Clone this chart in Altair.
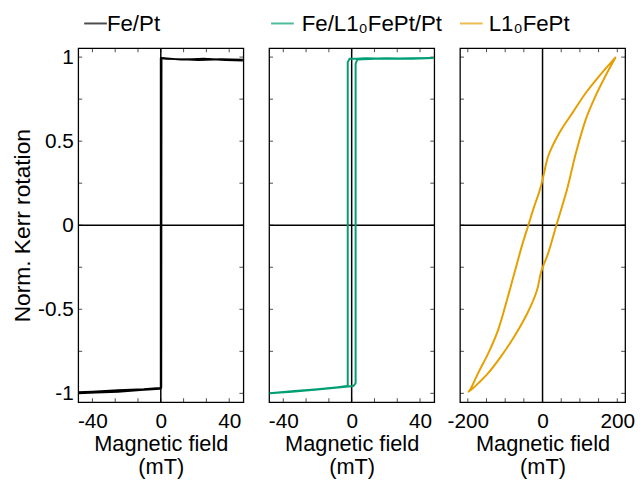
import altair as alt
import pandas as pd

# ---- data ----
fept_x = [48, 35, 22, 10, 3, 0.4, 0.25, -0.5, -10, -25, -40, -48,
          -48, -38, -25, -12, -0.6, 0, 0, 2, 12, 25, 38, 48]
fept_y = [0.985, 0.987, 0.983, 0.988, 0.99, 0.995, -0.965, -0.968, -0.975, -0.982, -0.99, -0.993,
          -1.0, -0.995, -0.99, -0.98, -0.973, -0.97, 0.99, 0.993, 0.985, 0.99, 0.983, 0.98]

mix_x = [48, 35, 20, 8, 3, -1.2, -2.3, -2.3, -2.8, -8, -20, -35, -48,
         -48, -35, -20, -8, 1.0, 2.3, 2.3, 3.2, 10, 20, 35, 48]
mix_y = [0.995, 0.993, 0.99, 0.993, 0.99, 0.99, 0.97, -0.95, -0.957, -0.963, -0.975, -0.988, -1.0,
         -1.0, -0.99, -0.978, -0.965, -0.957, -0.94, 0.96, 0.985, 0.988, 0.993, 0.99, 0.995]

l10_x = [196, 151, 116, 81, 46, 16, 3, -4, -10, -24, -38, -54, -76, -98, -119, -145, -172, -193, -198,
         -180, -145, -111, -76, -41, -15, -4, 16, 37, 64, 90, 116, 142, 168, 196]
l10_y = [1.0, 0.886, 0.788, 0.671, 0.553, 0.416, 0.30, 0.235, 0.19, 0.10, 0.0, -0.114, -0.29, -0.467,
         -0.624, -0.761, -0.878, -0.976, -0.992,
         -0.957, -0.878, -0.78, -0.663, -0.525, -0.388, -0.28, -0.16, 0.0, 0.2, 0.435, 0.631, 0.769,
         0.886, 1.0]

names = ["Fe/Pt", "Fe/L1\u2080FePt/Pt", "L1\u2080FePt"]
colors = ["#000000", "#009E73", "#E69F00"]

small_ticks = [-40, -80 / 3, -40 / 3, 0, 40 / 3, 80 / 3, 40]
small_labels = [-40, 0, 40]
big_ticks = [-200, -150, -100, -50, 0, 50, 100, 150, 200]
big_labels = [-200, 0, 200]
y_ticks = [-1, -0.75, -0.5, -0.25, 0, 0.25, 0.5, 0.75, 1]
y_labels = [-1, -0.5, 0, 0.5, 1]

W, H = 167, 358
TL = 4
FONT = "Liberation Sans"
LBL = 21
neg_expr = "datum.value < 0 ? '-' + format(-datum.value, '') : format(datum.value, '')"


def panel(xs, ys, name, color, xdom, xticks, xlabels, first, leg_dx, txt_dx, interp):
    df = pd.DataFrame({"x": xs, "y": ys, "i": list(range(len(xs)))})
    xscale = alt.Scale(domain=xdom, nice=False, zero=False)
    yscale = alt.Scale(domain=[-1.053, 1.053], nice=False, zero=False)
    xaxis = alt.Axis(values=xlabels, ticks=False, domain=False, grid=False,
                     labelExpr=neg_expr, labelFontSize=LBL, labelFont=FONT, labelColor="black",
                     labelPadding=9, title=["Magnetic field", "(mT)"], titleFontSize=22,
                     titleFont=FONT, titleFontWeight="normal", titleColor="black",
                     titlePadding=2, titleLineHeight=23)
    if first:
        yaxis = alt.Axis(values=y_labels, ticks=False, domain=False, grid=False,
                         labelExpr=neg_expr, labelFontSize=LBL, labelFont=FONT, labelColor="black",
                         labelPadding=5, title="Norm. Kerr rotation", titleFontSize=23,
                         titleFont=FONT, titleFontWeight="normal", titleColor="black",
                         titlePadding=3)
    else:
        yaxis = None

    def X(f):
        return alt.X(f, scale=xscale, axis=xaxis)

    def Y(f):
        return alt.Y(f, scale=yscale, axis=yaxis)

    line = alt.Chart(df).mark_line(strokeWidth=2, clip=True, color=color, interpolate=interp).encode(
        x=X("x:Q"), y=Y("y:Q"), order="i:Q")
    z = pd.DataFrame({"z": [0]})
    zero_v = alt.Chart(z).mark_rule(color="black", strokeWidth=1.5).encode(x=X("z:Q"))
    zero_h = alt.Chart(z).mark_rule(color="black", strokeWidth=1.5).encode(y=Y("z:Q"))

    xt = pd.DataFrame({"x": xticks})
    yt = pd.DataFrame({"y": y_ticks})
    tb = alt.Chart(xt).mark_tick(color="black", thickness=1, size=TL, orient="vertical").encode(
        x=X("x:Q"), y=alt.value(H - TL / 2))
    tt = alt.Chart(xt).mark_tick(color="black", thickness=1, size=TL, orient="vertical").encode(
        x=X("x:Q"), y=alt.value(TL / 2))
    tlft = alt.Chart(yt).mark_tick(color="black", thickness=1, size=TL, orient="horizontal").encode(
        y=Y("y:Q"), x=alt.value(TL / 2))
    trgt = alt.Chart(yt).mark_tick(color="black", thickness=1, size=TL, orient="horizontal").encode(
        y=Y("y:Q"), x=alt.value(W - TL / 2))

    ld = pd.DataFrame({"name": [name]})
    leg_line = alt.Chart(ld).mark_tick(color=color, thickness=2, size=23, orient="horizontal").encode(
        x=alt.value(leg_dx + 11.5), y=alt.value(-25))
    leg_text = alt.Chart(ld).mark_text(align="left", baseline="middle", fontSize=22.5, font=FONT,
                                       color="black").encode(
        text="name:N", x=alt.value(txt_dx), y=alt.value(-24))

    return alt.layer(zero_v, zero_h, tb, tt, tlft, trgt, line, leg_line, leg_text).properties(
        width=W, height=H)


p1 = panel(fept_x, fept_y, names[0], colors[0], [-48.3, 48.3], small_ticks, small_labels, True,
           6, 29, "linear")
p2 = panel(mix_x, mix_y, names[1], colors[1], [-48.3, 48.3], small_ticks, small_labels, False,
           2, 33, "linear")
p3 = panel(l10_x, l10_y, names[2], colors[2], [-221, 221], big_ticks, big_labels, False,
           0, 29, "catmull-rom")

chart = alt.hconcat(p1, p2, p3, spacing=26, bounds="flush").configure_view(
    stroke="black", strokeWidth=1.3
).properties(padding={"left": 3, "top": 2, "right": 0, "bottom": 0}, background="white")

chart.save("out.html", embed_options={"renderer": "svg", "actions": False})
